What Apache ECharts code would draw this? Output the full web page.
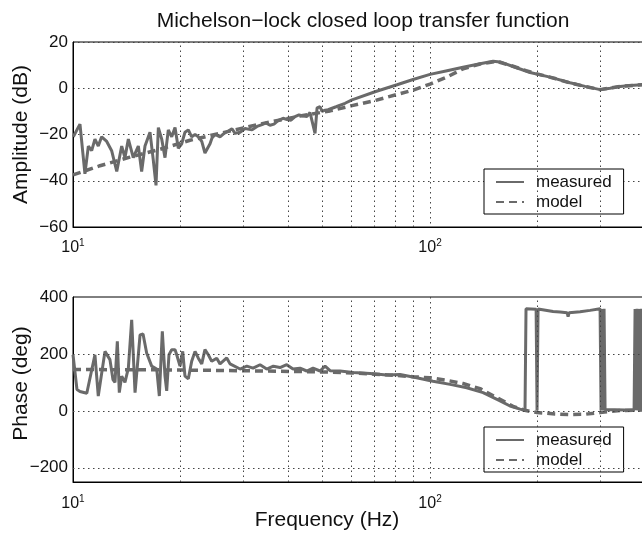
<!DOCTYPE html>
<html>
<head>
<meta charset="utf-8">
<title>Michelson-lock closed loop transfer function</title>
<script src="https://cdn.jsdelivr.net/npm/echarts@6.0.0/dist/echarts.min.js"></script>
<style>
    html, body { margin: 0; padding: 0; background: #fff; }
    #chart1 { width: 642px; height: 533px; }
</style>
</head>
<body>
<div id="chart1"></div>
<script>
// measured amplitude (Hz / dB)
var ampFreq = [10.02, 10.46, 10.80, 11.04, 11.28, 11.52, 11.77, 12.03, 12.43, 12.83,
    13.26, 13.69, 13.98, 14.29, 14.75, 15.24, 15.57, 15.91, 16.43, 16.78,
    17.08, 17.34, 17.72, 18.10, 18.49, 18.90, 19.31, 19.72, 20.16, 20.59,
    21.04, 21.50, 21.97, 22.44, 22.94, 23.42, 24.20, 24.51, 24.99, 25.81,
    26.49, 27.18, 27.88, 28.43, 29.37, 30.33, 31.73, 32.77, 33.84, 34.72,
    35.63, 36.56, 37.51, 38.75, 39.75, 40.79, 41.87, 42.95, 44.10, 45.24,
    46.12, 46.71, 47.63, 48.26, 49.20, 49.84, 50.81, 51.81, 54.55, 57.81,
    60.47, 70.13, 80.83, 89.63, 100, 111.6, 123.7, 138.1, 150.2, 157.1,
    170.8, 190.6, 216.8, 246.7, 271.8, 299.4, 319.3, 340.5, 363.3, 400];
var ampMeasured = [-21, -15.5, -37, -25, -27, -22, -25, -21, -23, -27,
    -36, -25, -30, -22, -30, -25, -36, -25, -19, -31,
    -42, -17, -22, -30, -18, -21, -17, -26, -24, -19,
    -18, -21, -20, -21, -23, -28, -24, -21.5, -20, -21,
    -19.5, -18.6, -17.5, -19.5, -19, -17.4, -18, -16.5, -15.7, -15,
    -16, -15.5, -14, -13, -13.5, -13.8, -12.3, -11.5, -12, -12.2,
    -10.5, -10, -19.5, -8.5, -8, -10, -9.5, -9.3, -8, -6.5,
    -5, -1.5, 1.5, 3.8, 6, 7.6, 9.1, 10.6, 11.7, 11.4,
    9.4, 6.8, 4.8, 2.4, 0.8, -0.6, 0, 0.8, 1.2, 1.6];

// measured phase (Hz / deg)
var phaseFreq = [10.00, 10.26, 10.46, 10.93, 11.04, 11.52, 11.77, 12.29, 12.69, 12.94,
    13.11, 13.31, 13.48, 13.69, 13.98, 14.29, 14.60, 14.92, 15.41, 15.71,
    16.08, 16.61, 17.16, 17.45, 17.79, 18.10, 18.30, 18.57, 18.90, 19.31,
    19.52, 19.94, 20.29, 20.59, 21.04, 21.50, 21.97, 22.44, 22.94, 23.42,
    23.93, 24.46, 25.27, 25.81, 26.95, 27.53, 29.37, 30.67, 31.94, 33.41,
    34.88, 36.40, 38.00, 39.68, 41.33, 43.24, 45.14, 47.02, 49.20, 50.81,
    52.48, 55.97, 60.86, 67.90, 75.62, 82.41, 91.71, 101.9, 113.8, 126.7,
    140.8, 157.1, 167.5, 178.7, 184.5, 185.7, 198.2, 199.4, 200.7, 221.1,
    231.3, 242.0, 243.6, 245.2, 263.2, 280.7, 299.4, 301.3, 303.3, 305.3,
    307.2, 309.2, 329.7, 351.7, 372.8, 375.2, 377.6, 380.1, 382.5, 385.0,
    387.5, 390.0, 392.6, 395.2, 400];
var phaseMeasured = [197, 75, 68, 62, 58, 197, 52, 209, 180, 110,
    100, 244, 64, 122, 100, 150, 320, 64, 267, 270,
    203, 157, 147, 52, 279, 122, 70, 197, 215, 215,
    197, 157, 209, 122, 113, 174, 209, 185, 165, 215,
    197, 174, 185, 165, 186, 165, 147, 157, 150, 162,
    147, 157, 152, 162, 147, 150, 140, 150, 140, 157,
    141, 140, 135, 131, 126, 128, 116, 104, 93, 81,
    64, 35, 17, 6, 1, 359, 357, 1, 358, 349,
    347, 345, 331, 345, 348, 353, 359, 2, 358, 3,
    359, 4, 4, 3, 3, 358, 2, 359, 1, 358,
    2, 359, 1, 358, 2];

// model (Hz / dB / deg)
var modelFreq = [10, 11.90, 14.44, 17.53, 21.27, 25.81, 33.41, 43.24, 52.48, 60.47,
    70.13, 80.83, 89.63, 100, 111.6, 123.7, 138.1, 154.1, 170.8, 185.7,
    199.4, 223.9, 246.7, 271.8, 299.4, 340.5, 400];
var ampModel = [-37.5, -33.5, -29.8, -26.4, -22.5, -19.5, -15.5, -12, -9.8, -7.5,
    -5.3, -2.7, -0.8, 1.8, 4.9, 8.4, 10.5, 11.6, 9.5, 7.6,
    6.2, 4.2, 2.3, 0.8, -0.6, 0.8, 1.6];
var phaseModel = [145, 145, 144, 144, 143, 142, 140, 138, 136, 133,
    129, 124, 120, 116, 107, 96, 78, 46, 16, 1,
    -6, -11, -13, -12, -6, 1, 3];

var minorFreqs = [20, 30, 40, 50, 60, 70, 80, 90, 200, 300];   // dotted grid between decades
var phaseGridLines = [-200, 0, 200];

var FONT = '"Liberation Sans", Arial, Helvetica, sans-serif';
var INK = '#111';
var LINE_COLOR = '#6a6a6a';
var dotted = { color: '#444', type: [1.5, 3.5], width: 1 };

window.onload = function () {
    myChartInit();
};

function pairs(xs, ys) {
    var d = [];
    for (var i = 0; i < xs.length; i++) {
        d.push([xs[i], ys[i]]);
    }
    return d;
}

// 10^n labels on the frequency axis
function expLabel(value) {
    var e = Math.round(Math.log(value) / Math.LN10);
    if (Math.abs(value - Math.pow(10, e)) > 1e-6 * value) return '';
    return '{b|10}{s|' + e + '}';
}

function minusLabel(v) {
    return String(v).replace('-', '\u2212');
}

function freqAxis(idx, margin) {
    return {
        type: 'log',
        logBase: 10,
        gridIndex: idx,
        min: 10,
        max: 400,
        axisLine: { show: true, onZero: false, lineStyle: { color: '#000', width: 1 } },
        axisTick: { show: false },
        axisLabel: {
            formatter: expLabel,
            margin: margin,
            showMinLabel: true,
            showMaxLabel: false,
            rich: {
                b: { fontSize: 16, fontFamily: FONT, color: INK, lineHeight: 20 },
                s: { fontSize: 10, fontFamily: FONT, color: INK, lineHeight: 12, verticalAlign: 'top' }
            }
        },
        splitLine: { show: true, lineStyle: dotted }
    };
}

function legendBox(top) {
    return {
        data: ['measured', 'model'],
        orient: 'vertical',
        left: 484,
        top: top,
        padding: [3, 12, 2, 11],
        itemGap: 0,
        itemWidth: 28,
        itemHeight: 14,
        borderColor: '#000',
        borderWidth: 1,
        backgroundColor: '#fff',
        selectedMode: false,
        itemStyle: { opacity: 0 },
        textStyle: { fontSize: 17, fontFamily: FONT, color: INK, lineHeight: 20, padding: [0, 0, 0, 7] }
    };
}

function myChartInit() {
    var myChart1 = echarts.init(document.getElementById('chart1'));

    var option1 = {
        animation: false,
        backgroundColor: '#fff',
        title: [
            {
                text: 'Michelson\u2212lock closed loop transfer function',
                left: 358,
                top: 6,
                textAlign: 'center',
                textStyle: { fontSize: 21, fontWeight: 'normal', fontFamily: FONT, color: INK }
            },
            {
                text: 'Frequency (Hz)',
                left: 322,
                top: 505,
                textAlign: 'center',
                textStyle: { fontSize: 21, fontWeight: 'normal', fontFamily: FONT, color: INK }
            }
        ],
        legend: [legendBox(169), legendBox(427)],
        grid: [
            { left: 73, right: -3, top: 42, height: 185, show: true, borderColor: '#000', borderWidth: 1,
              containLabel: false, outerBoundsMode: 'none' },
            { left: 73, right: -3, top: 297, height: 185, show: true, borderColor: '#000', borderWidth: 1,
              containLabel: false, outerBoundsMode: 'none' }
        ],
        xAxis: [freqAxis(0, 11), freqAxis(1, 12)],
        yAxis: [
            {
                type: 'value',
                gridIndex: 0,
                min: -60,
                max: 20,
                interval: 20,
                name: 'Amplitude (dB)',
                nameLocation: 'middle',
                nameGap: 41,
                nameMoveOverlap: false,
                nameTextStyle: { fontSize: 21, fontFamily: FONT, color: INK },
                axisLine: { show: true, onZero: false, lineStyle: { color: '#000', width: 1 } },
                axisTick: { show: false },
                axisLabel: { fontSize: 17, fontFamily: FONT, color: INK, margin: 5, formatter: minusLabel },
                splitLine: { show: true, lineStyle: dotted }
            },
            {
                type: 'value',
                gridIndex: 1,
                min: -250,
                max: 400,
                interval: 50,
                name: 'Phase (deg)',
                nameLocation: 'middle',
                nameGap: 41,
                nameMoveOverlap: false,
                nameTextStyle: { fontSize: 21, fontFamily: FONT, color: INK, padding: [0, 0, 0, 12] },
                axisLine: { show: true, onZero: false, lineStyle: { color: '#000', width: 1 } },
                axisTick: { show: false },
                axisLabel: {
                    fontSize: 17, fontFamily: FONT, color: INK, margin: 5,
                    formatter: function (v) { return v % 200 === 0 ? minusLabel(v) : ''; }
                },
                splitLine: { show: false }
            }
        ],
        series: [
            // grid lines drawn as mark lines so they follow the log scale
            {
                type: 'line', xAxisIndex: 0, yAxisIndex: 0, data: [], z: 1, silent: true,
                markLine: {
                    silent: true, symbol: ['none', 'none'], label: { show: false },
                    lineStyle: dotted, emphasis: { disabled: true },
                    data: minorFreqs.map(function (f) { return { xAxis: f }; })
                }
            },
            {
                type: 'line', xAxisIndex: 1, yAxisIndex: 1, data: [], z: 1, silent: true,
                markLine: {
                    silent: true, symbol: ['none', 'none'], label: { show: false },
                    lineStyle: dotted, emphasis: { disabled: true },
                    data: minorFreqs.map(function (f) { return { xAxis: f }; })
                        .concat(phaseGridLines.map(function (p) { return { yAxis: p }; }))
                }
            },
            {
                name: 'model', type: 'line', xAxisIndex: 0, yAxisIndex: 0,
                data: pairs(modelFreq, ampModel), symbol: 'none', z: 3,
                color: LINE_COLOR,
                lineStyle: { color: LINE_COLOR, width: 3.5, type: [8, 5] }
            },
            {
                name: 'measured', type: 'line', xAxisIndex: 0, yAxisIndex: 0,
                data: pairs(ampFreq, ampMeasured), symbol: 'none', z: 4,
                color: LINE_COLOR,
                lineStyle: { color: LINE_COLOR, width: 3 }
            },
            {
                name: 'model', type: 'line', xAxisIndex: 1, yAxisIndex: 1,
                data: pairs(modelFreq, phaseModel), symbol: 'none', z: 3,
                color: LINE_COLOR,
                lineStyle: { color: LINE_COLOR, width: 3.5, type: [8, 5] }
            },
            {
                name: 'measured', type: 'line', xAxisIndex: 1, yAxisIndex: 1,
                data: pairs(phaseFreq, phaseMeasured), symbol: 'none', z: 4,
                color: LINE_COLOR,
                lineStyle: { color: LINE_COLOR, width: 3 }
            }
        ]
    };

    myChart1.setOption(option1);
}
</script>
</body>
</html>
